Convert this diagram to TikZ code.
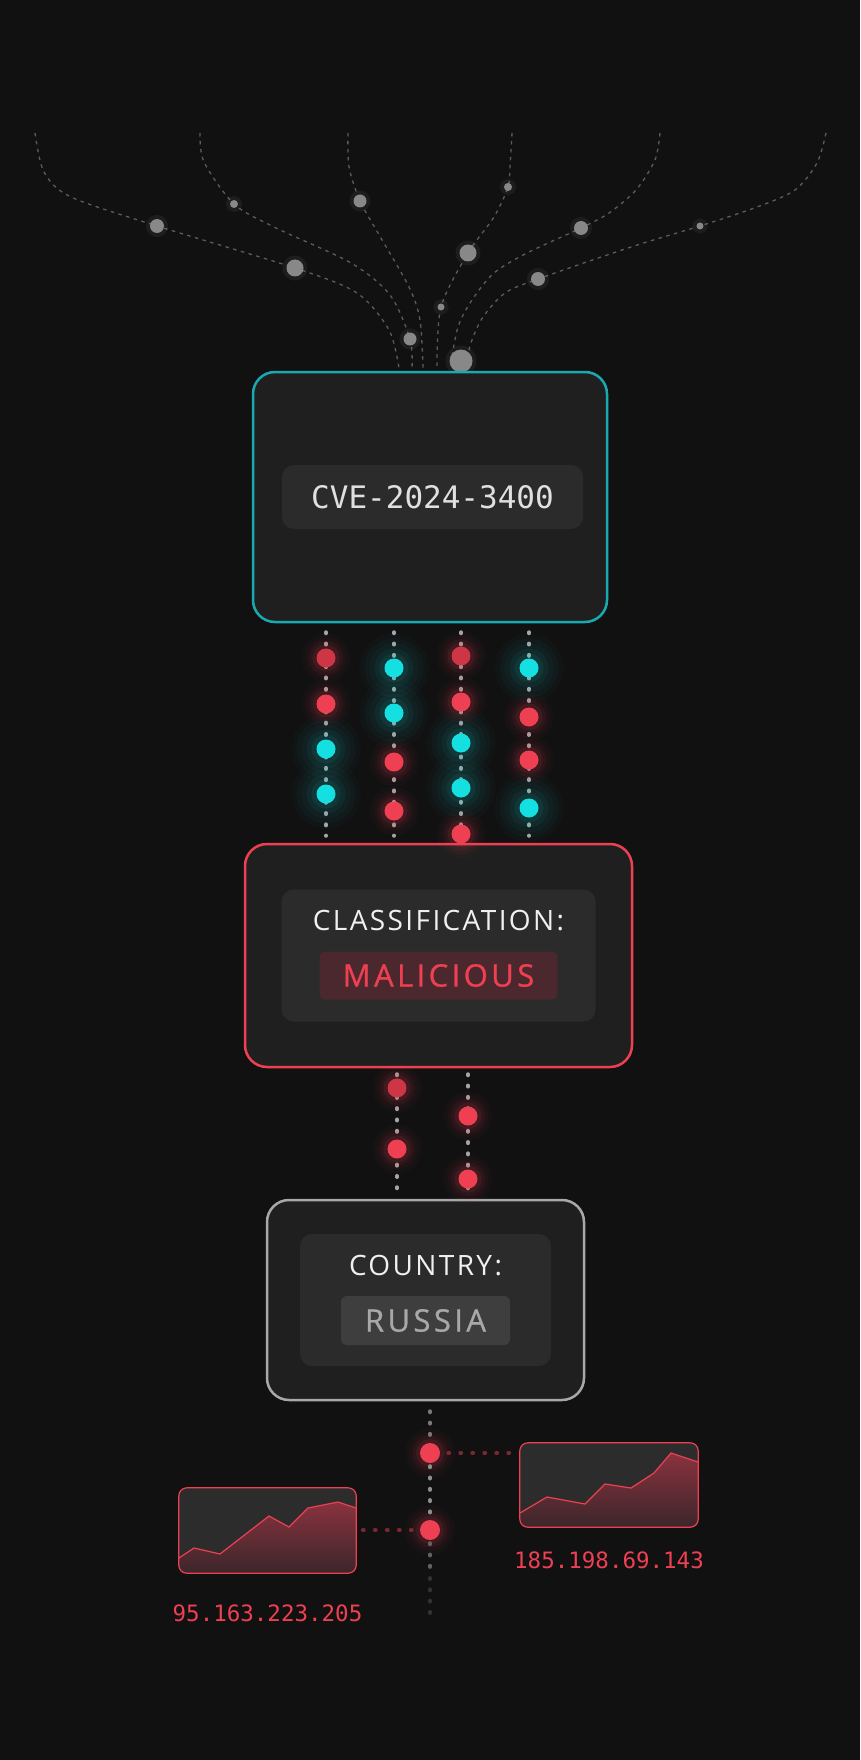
\documentclass[tikz,border=0pt]{standalone}
\usepackage{fontspec}
\usetikzlibrary{positioning}
\newfontfamily\monofont{DejaVu Sans Mono}
\newfontfamily\capsfont[LetterSpace=8.5]{Open Sans}
\newfontfamily\tagfont[LetterSpace=11,FakeBold=0.8]{Open Sans}
\definecolor{bgdark}{RGB}{17,17,17}
\definecolor{cardfill}{RGB}{31,31,31}
\definecolor{panelfill}{RGB}{43,43,43}
\definecolor{cveteal}{RGB}{24,170,176}
\definecolor{alertred}{RGB}{238,64,82}
\definecolor{dimred}{RGB}{206,54,70}
\definecolor{linkred}{RGB}{122,40,50}
\definecolor{dotcyan}{RGB}{20,224,226}
\definecolor{rimgrey}{RGB}{168,168,168}
\definecolor{dotgrey}{RGB}{165,165,165}
\definecolor{threadgrey}{RGB}{92,92,92}
\definecolor{sparkgrey}{RGB}{136,136,136}
\definecolor{pillred}{RGB}{74,40,45}
\definecolor{pillgrey}{RGB}{62,62,62}
\definecolor{chartfill}{RGB}{44,44,44}
\definecolor{areatop}{RGB}{138,50,62}
\definecolor{areabot}{RGB}{58,38,42}

\begin{document}
\begin{tikzpicture}[x=1pt,y=-1pt,
    card/.style={rectangle,rounded corners=22pt,fill=cardfill,line width=2.5pt,inner sep=0pt},
    panel/.style={rectangle,rounded corners=12pt,fill=panelfill,inner sep=0pt},
    tag/.style={rectangle,rounded corners=6pt,inner sep=0pt,font=\tagfont\fontsize{31}{36}\selectfont},
    caption/.style={inner sep=0pt,text=white!94!black,font=\capsfont\fontsize{28}{34}\selectfont},
    greydots/.style={draw=dotgrey,line width=4pt,line cap=round,dash pattern=on 1pt off 10.3pt},
    reddots/.style={draw=linkred,line width=3.8pt,line cap=round,dash pattern=on 1pt off 11pt},
    thread/.style={draw=threadgrey,line width=1.3pt,dash pattern=on 3.5pt off 4.5pt},
    spark/.style={circle,fill=sparkgrey,inner sep=0pt,preaction={draw=white,line width=8pt,draw opacity=0.05}},
    reddot/.style={circle,fill=alertred,inner sep=0pt,minimum size=19pt,
        preaction={draw=alertred,line width=30pt,draw opacity=0.03},
        preaction={draw=alertred,line width=22pt,draw opacity=0.045},
        preaction={draw=alertred,line width=15pt,draw opacity=0.065},
        preaction={draw=alertred,line width=8pt,draw opacity=0.1}},
    cyandot/.style={circle,fill=dotcyan,inner sep=0pt,minimum size=19pt,
        preaction={draw=dotcyan,line width=50pt,draw opacity=0.02},
        preaction={draw=dotcyan,line width=40pt,draw opacity=0.03},
        preaction={draw=dotcyan,line width=30pt,draw opacity=0.035},
        preaction={draw=dotcyan,line width=20pt,draw opacity=0.05},
        preaction={draw=dotcyan,line width=10pt,draw opacity=0.08}},
    chart/.style={rectangle,rounded corners=8pt,fill=chartfill,inner sep=0pt},
    iplabel/.style={inner sep=0pt,text=alertred,font=\monofont\fontsize{22.5}{27}\selectfont}]
        \fill[bgdark] (0,0) rectangle (860,1760);
        \useasboundingbox (0,0) rectangle (860,1760);
        \draw[thread] plot[smooth] coordinates {(35,133) (44,172) (71,197) (157,226) (295,268) (357,293) (389,330) (399,368)};
        \draw[thread] plot[smooth] coordinates {(200,133) (204,162) (234,204) (274,227) (351,263) (390,295) (410,339) (412,368)};
        \draw[thread] plot[smooth] coordinates {(348,133) (349,167) (360,201) (378,233) (409,287) (420,320) (423,368)};
        \draw[thread] plot[smooth] coordinates {(512,133) (510,167) (508,187) (494,217) (468,253) (441,307) (437,368)};
        \draw[thread] plot[smooth] coordinates {(660,133) (655,160) (636,190) (609,213) (581,228) (527,253) (494,273) (472,300) (458,327) (450,368)};
        \draw[thread] plot[smooth] coordinates {(826,133) (817,163) (795,190) (757,207) (700,226) (631,247) (538,279) (505,293) (483,317) (472,340) (465,365)};
        \node[spark,minimum size=14pt] (s1) at (157,226) {};
        \node[spark,minimum size=8pt] (s2) at (234,204) {};
        \node[spark,minimum size=13pt] (s3) at (360,201) {};
        \node[spark,minimum size=8pt] (s4) at (508,187) {};
        \node[spark,minimum size=14pt] (s5) at (581,228) {};
        \node[spark,minimum size=7pt] (s6) at (700,226) {};
        \node[spark,minimum size=17pt] (s7) at (295,268) {};
        \node[spark,minimum size=17pt] (s8) at (468,253) {};
        \node[spark,minimum size=14pt] (s9) at (538,279) {};
        \node[spark,minimum size=7pt] (s10) at (441,307) {};
        \node[spark,minimum size=13pt] (s11) at (410,339) {};
        \node[spark,minimum size=23pt] (s12) at (461,361) {};
        \node[card,draw=cveteal,minimum width=354pt,minimum height=250pt] (cve) at (430,497) {};
        \node[panel,minimum width=301pt,minimum height=64pt,text=white!88!black,font=\monofont\fontsize{31}{36}\selectfont] (cvepanel) at (432.5,497) {CVE-2024-3400};
        \node[card,draw=alertred,minimum width=387pt,minimum height=223pt] (cls) at (438.5,955.5) {};
        \node[panel,minimum width=314pt,minimum height=132pt] (clspanel) at (cls.center) {};
        \node[caption] (clstitle) at ([yshift=35pt]clspanel.center) {CLASSIFICATION:};
        \node[tag,fill=pillred,text=alertred,minimum width=238pt,minimum height=48pt] (clsvalue) at ([yshift=-20pt]clspanel.center) {MALICIOUS};
        \node[card,draw=rimgrey,minimum width=317pt,minimum height=200pt] (country) at (425.5,1300) {};
        \node[panel,minimum width=251pt,minimum height=132pt] (countrypanel) at (country.center) {};
        \node[caption] (countrytitle) at ([yshift=34pt]countrypanel.center) {COUNTRY:};
        \node[tag,fill=pillgrey,text=rimgrey,minimum width=169pt,minimum height=49pt] (countryvalue) at ([yshift=-20.5pt]countrypanel.center) {RUSSIA};
        \draw[greydots,shorten <=9pt,shorten >=7pt] (cve.south -| 326,0) -- (cls.north -| 326,0);
        \draw[greydots,shorten <=9pt,shorten >=7pt] (cve.south -| 394,0) -- (cls.north -| 394,0);
        \draw[greydots,shorten <=9pt,shorten >=7pt] (cve.south -| 461,0) -- (cls.north -| 461,0);
        \draw[greydots,shorten <=9pt,shorten >=7pt] (cve.south -| 529,0) -- (cls.north -| 529,0);
        \draw[greydots,shorten <=6pt,shorten >=3pt] (cls.south -| 397,0) -- (country.north -| 397,0);
        \draw[greydots,shorten <=6pt,shorten >=3pt] (cls.south -| 468,0) -- (country.north -| 468,0);
        \node[reddot,fill=dimred] (a1) at (326,658) {};
        \node[reddot] (a2) at (326,704) {};
        \node[cyandot] (a3) at (326,749) {};
        \node[cyandot] (a4) at (326,794) {};
        \node[cyandot] (b1) at (394,668) {};
        \node[cyandot] (b2) at (394,713) {};
        \node[reddot] (b3) at (394,762) {};
        \node[reddot] (b4) at (394,811) {};
        \node[reddot,fill=dimred] (c1) at (461,656) {};
        \node[reddot] (c2) at (461,702) {};
        \node[cyandot] (c3) at (461,743) {};
        \node[cyandot] (c4) at (461,788) {};
        \node[reddot] (c5) at (461,834) {};
        \node[cyandot] (d1) at (529,668) {};
        \node[reddot] (d2) at (529,717) {};
        \node[reddot] (d3) at (529,760) {};
        \node[cyandot] (d4) at (529,808) {};
        \node[reddot,fill=dimred] (e1) at (397,1088) {};
        \node[reddot] (e2) at (397,1149) {};
        \node[reddot] (f1) at (468,1116) {};
        \node[reddot] (f2) at (468,1179) {};
        \node[reddot,minimum size=20pt] (ipa) at (430,1453) {};
        \node[reddot,minimum size=20pt] (ipb) at (430,1530) {};
        \coordinate (fadea) at (430,1572);
        \coordinate (tail) at (430,1618);
        \draw[greydots,draw=dotgrey!70!bgdark,shorten <=10pt,shorten >=2pt] (country.south -| 430,0) -- (ipa);
        \draw[greydots,draw=dotgrey!85!bgdark,shorten <=3pt,shorten >=3pt] (ipa) -- (ipb);
        \draw[greydots,draw=dotgrey!55!bgdark,shorten <=3pt] (ipb) -- (fadea);
        \draw[greydots,draw=dotgrey!22!bgdark,shorten <=6pt] (fadea) -- (tail);
        \node[chart,minimum width=177pt,minimum height=85pt] (charta) at (267.5,1530.5) {};
        \node[chart,minimum width=178pt,minimum height=84pt] (chartb) at (609,1485) {};
        \draw[reddots,shorten <=8pt] (ipa) -- (ipa -| chartb.west);
        \draw[reddots,shorten <=8pt] (ipb) -- (ipb -| charta.east);
        \begin{scope}
            \clip[rounded corners=8pt] (charta.south west) rectangle (charta.north east);
            \fill[top color=areatop,bottom color=areabot] (179,1558) -- (194,1548) -- (220,1554) -- (269,1516) -- (289,1527) -- (308,1508) -- (338,1502) -- (356,1508) -- (356,1574) -- (179,1574) -- cycle;
            \draw[alertred,line width=1.2pt] (179,1558) -- (194,1548) -- (220,1554) -- (269,1516) -- (289,1527) -- (308,1508) -- (338,1502) -- (356,1508);
        \end{scope}
        \begin{scope}
            \clip[rounded corners=8pt] (chartb.south west) rectangle (chartb.north east);
            \fill[top color=areatop,bottom color=areabot] (520,1513) -- (547,1497) -- (585,1504) -- (605,1484) -- (631,1488) -- (654,1473) -- (671,1453) -- (698,1462) -- (698,1528) -- (520,1528) -- cycle;
            \draw[alertred,line width=1.2pt] (520,1513) -- (547,1497) -- (585,1504) -- (605,1484) -- (631,1488) -- (654,1473) -- (671,1453) -- (698,1462);
        \end{scope}
        \draw[alertred,line width=1.2pt,rounded corners=8pt] (charta.south west) rectangle (charta.north east);
        \draw[alertred,line width=1.2pt,rounded corners=8pt] (chartb.south west) rectangle (chartb.north east);
        \node[iplabel,below=24pt of chartb] (ipbtext) {185.198.69.143};
        \node[iplabel,below=31pt of charta] (ipatext) {95.163.223.205};
    \end{tikzpicture}
\end{document}
